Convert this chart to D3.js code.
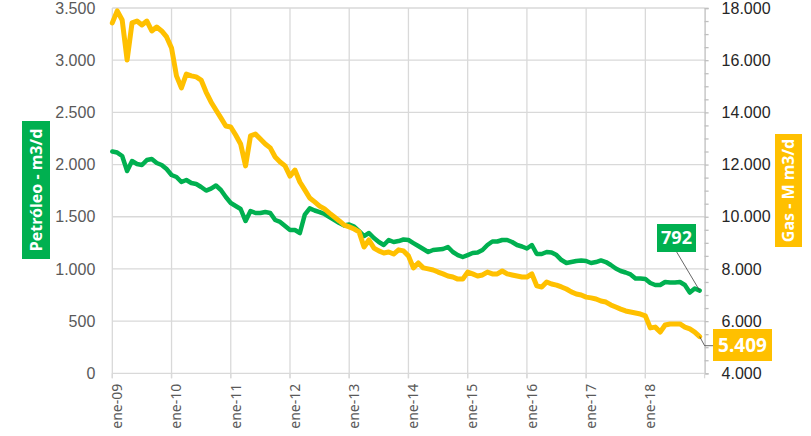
<!DOCTYPE html>
<html>
<head>
<meta charset="utf-8">
<script src="https://cdn.jsdelivr.net/npm/d3@7"></script>
<style>
  body { margin: 0; background: #fff; }
  svg { font-family: "Noto Sans", "Open Sans", sans-serif; }
</style>
</head>
<body>
<svg id="chart"></svg>
<script>
// year tick labels (one every 12 months, starting ene-09)
const tickLabels = ["ene-09", "ene-10", "ene-11", "ene-12", "ene-13", "ene-14", "ene-15", "ene-16", "ene-17", "ene-18"];

// monthly oil production, m3/d (ene-09 .. dic-18)
const oil = [
  2125, 2115, 2082, 1938, 2034, 2005, 1996, 2043, 2053, 2015,
  1996, 1957, 1900, 1881, 1833, 1852, 1823, 1814, 1785, 1751,
  1770, 1799, 1756, 1689, 1632, 1603, 1574, 1459, 1555, 1536,
  1536, 1545, 1536, 1469, 1450, 1411, 1373, 1373, 1344, 1520,
  1580, 1560, 1545, 1526, 1497, 1469, 1440, 1416, 1426, 1406,
  1363, 1315, 1344, 1296, 1258, 1229, 1277, 1258, 1267, 1282,
  1277, 1248, 1220, 1191, 1162, 1181, 1186, 1191, 1210, 1162,
  1133, 1114, 1133, 1153, 1157, 1181, 1229, 1263, 1263, 1277,
  1277, 1258, 1229, 1215, 1196, 1229, 1143, 1143, 1162, 1157,
  1133, 1085, 1057, 1066, 1076, 1081, 1076, 1057, 1066, 1081,
  1066, 1038, 1004, 980, 966, 947, 908, 908, 903, 865,
  846, 846, 875, 870, 870, 875, 846, 774, 812, 792
];

// monthly gas production, M m3/d
const gas = [
  17430, 17890, 17540, 16010, 17430, 17500, 17350, 17500, 17120, 17270,
  17120, 16890, 16470, 15400, 14940, 15470, 15400, 15360, 15240, 14780,
  14400, 14090, 13790, 13480, 13440, 13130, 12790, 11950, 13100, 13170,
  12980, 12790, 12640, 12290, 12100, 11950, 11560, 11790, 11330, 11030,
  10720, 10570, 10410, 10300, 10140, 9990, 9840, 9680, 9610, 9530,
  9420, 8840, 9110, 8800, 8690, 8610, 8650, 8570, 8730, 8690,
  8500, 8040, 8230, 8040, 8000, 7960, 7880, 7810, 7730, 7690,
  7610, 7610, 7880, 7810, 7730, 7770, 7880, 7810, 7810, 7920,
  7810, 7770, 7730, 7690, 7690, 7810, 7350, 7310, 7500, 7420,
  7380, 7310, 7230, 7120, 7040, 7000, 6920, 6890, 6850, 6770,
  6730, 6620, 6540, 6460, 6390, 6350, 6310, 6270, 6200, 5740,
  5770, 5580, 5850, 5890, 5890, 5890, 5770, 5700, 5580, 5409
];

const width = 811, height = 436;
const margin = { top: 8, right: 106.4, bottom: 62.7, left: 112.3 };
const green = "#00B050", yellow = "#FFC000", grid = "#d9d9d9";

const loc = d3.formatLocale({ decimal: ",", thousands: ".", grouping: [3], currency: ["$", ""] });
const fmt = loc.format(",.0f");

const svg = d3.select("#chart").attr("width", width).attr("height", height);

const x = d3.scaleLinear().domain([0, 120]).range([margin.left, width - margin.right]);
const yL = d3.scaleLinear().domain([0, 3500]).range([height - margin.bottom, margin.top]);
const yR = d3.scaleLinear().domain([4000, 18000]).range([height - margin.bottom, margin.top]);

// gridlines
svg.append("g")
  .selectAll("line.h")
  .data(d3.range(0, 3501, 500))
  .join("line")
  .attr("x1", x(0)).attr("x2", x(120))
  .attr("y1", d => yL(d)).attr("y2", d => yL(d))
  .attr("stroke", grid).attr("stroke-width", 1.3);

svg.append("g")
  .selectAll("line.v")
  .data(d3.range(0, 120, 12))
  .join("line")
  .attr("x1", d => x(d)).attr("x2", d => x(d))
  .attr("y1", yL(3500)).attr("y2", yL(0) + 5)
  .attr("stroke", grid).attr("stroke-width", 1.3);

// left axis
const gL = svg.append("g")
  .attr("transform", `translate(${margin.left},0)`)
  .call(d3.axisLeft(yL).tickValues(d3.range(0, 3501, 500)).tickFormat(fmt).tickSize(0).tickPadding(17));
gL.select(".domain").remove();
gL.selectAll("text").attr("fill", "#595959").style("font-size", "16px");

// right axis
const gR = svg.append("g")
  .attr("transform", `translate(${width - margin.right},0)`)
  .call(d3.axisRight(yR).tickValues(d3.range(4000, 18001, 500))
    .tickFormat(d => d % 2000 === 0 ? fmt(d) : "").tickSize(4).tickPadding(13));
gR.select(".domain").attr("stroke", "#bfbfbf").attr("stroke-width", 1.3);
gR.selectAll(".tick line").attr("stroke", "#bfbfbf").attr("stroke-width", 1.3);
gR.selectAll("text").attr("fill", "#262626").style("font-size", "16px");

// bottom axis ticks + rotated labels
const gB = svg.append("g");
gB.selectAll("line")
  .data(d3.range(0, 121, 12))
  .join("line")
  .attr("x1", d => x(d)).attr("x2", d => x(d))
  .attr("y1", yL(0)).attr("y2", yL(0) + 5)
  .attr("stroke", grid).attr("stroke-width", 1.3);
gB.selectAll("text")
  .data(tickLabels)
  .join("text")
  .attr("transform", (d, i) => `translate(${x(i * 12) + 9.8},${yL(0) + 10.5}) rotate(-90)`)
  .attr("text-anchor", "end")
  .attr("fill", "#595959")
  .style("font-size", "14px")
  .text(d => d);

// lines
const idx = d3.range(oil.length);
const lineOil = d3.line().x(i => x(i)).y(i => yL(oil[i]));
const lineGas = d3.line().x(i => x(i)).y(i => yR(gas[i]));

svg.append("path").datum(idx)
  .attr("fill", "none").attr("stroke", green).attr("stroke-width", 4.5)
  .attr("stroke-linejoin", "round").attr("stroke-linecap", "round")
  .attr("d", lineOil);

svg.append("path").datum(idx)
  .attr("fill", "none").attr("stroke", yellow).attr("stroke-width", 5)
  .attr("stroke-linejoin", "round").attr("stroke-linecap", "round")
  .attr("d", lineGas);

// axis titles
function boxTitle(cx, cy, w, h, fill, label) {
  const g = svg.append("g");
  g.append("rect").attr("x", cx - w / 2).attr("y", cy - h / 2).attr("width", w).attr("height", h).attr("fill", fill);
  g.append("text")
    .attr("transform", `translate(${cx},${cy}) rotate(-90)`)
    .attr("text-anchor", "middle").attr("dy", "0.36em")
    .attr("fill", "#fff").style("font-size", "16px").style("font-weight", "bold")
    .text(label);
}
boxTitle(36, 190, 28, 138, green, "Petróleo - m3/d");
boxTitle(788.5, 190.5, 27, 113, yellow, "Gas - M m3/d");

// end-value labels
const last = oil.length - 1;
const ox = x(last), oy = yL(oil[last]);
const gx = x(last), gy = yR(gas[last]);

svg.append("line")
  .attr("x1", 676.7).attr("y1", 252).attr("x2", ox).attr("y2", oy)
  .attr("stroke", "#404040").attr("stroke-width", 0.8);
svg.append("rect").attr("x", 657).attr("y", 224).attr("width", 39).attr("height", 28).attr("fill", green);
svg.append("text").attr("x", 676.5).attr("y", 238).attr("dy", "0.36em")
  .attr("text-anchor", "middle").attr("fill", "#fff")
  .style("font-size", "18px").style("font-weight", "bold")
  .text(fmt(oil[last]));

svg.append("polyline")
  .attr("points", `${gx},${gy} ${x(120)},345.7 713,345.7`)
  .attr("fill", "none").attr("stroke", "#404040").attr("stroke-width", 0.8);
svg.append("rect").attr("x", 713).attr("y", 329).attr("width", 59).attr("height", 32).attr("fill", yellow);
svg.append("text").attr("x", 742.5).attr("y", 345).attr("dy", "0.36em")
  .attr("text-anchor", "middle").attr("fill", "#fff")
  .style("font-size", "19px").style("font-weight", "bold")
  .text(fmt(gas[last]));
</script>
</body>
</html>
